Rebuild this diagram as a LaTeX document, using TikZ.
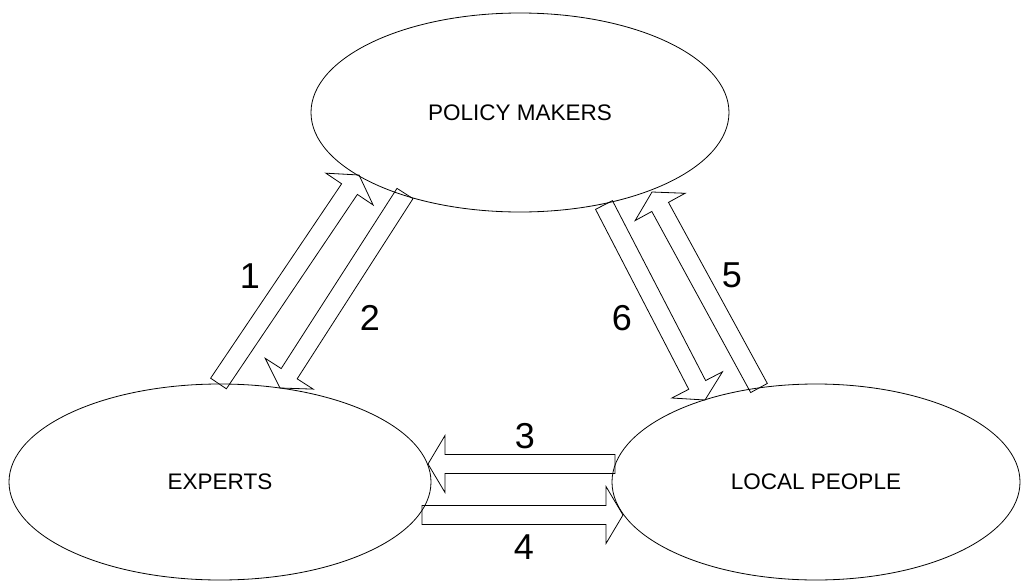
\documentclass[tikz,border=0pt]{standalone}
\usepackage{fontspec}
\setmainfont{Liberation Sans}
\usetikzlibrary{shapes.geometric,calc}
\tikzset{
  party/.style={draw=black, line width=0.8pt, ellipse, inner sep=0pt, font=\fontsize{22.5}{27}\selectfont},
  blk/.style={draw=black, line width=0.8pt, line join=miter},
  num/.style={inner sep=0pt, font=\fontsize{36}{40}\selectfont}
}
% block arrow from #1 (tail) to #2 (tip); #3 = name for head base point
\newcommand\blockarrow[3]{%
  \coordinate (#3) at ($(#2)!17pt!(#1)$);
  \draw[blk] ($(#1)!9.5pt!90:(#2)$) -- ($(#3)!9.5pt!90:(#2)$) -- ($(#3)!28.5pt!90:(#2)$)
    -- (#2) -- ($(#3)!28.5pt!-90:(#2)$) -- ($(#3)!9.5pt!-90:(#2)$) -- ($(#1)!9.5pt!-90:(#2)$) -- cycle;
}
\begin{document}
\begin{tikzpicture}[x=1pt,y=-1pt]
\useasboundingbox (0,0) rectangle (1021,581);
% parties
\node[party, minimum width=418pt, minimum height=199pt] (pm) at (520,112.5) {POLICY MAKERS};
\node[party, minimum width=422pt, minimum height=196pt] (ex) at (220,482) {EXPERTS};
\node[party, minimum width=408pt, minimum height=196pt] (lp) at (816,482) {LOCAL PEOPLE};
% arrow end points
\coordinate (a1t) at (218.5,383.5); \coordinate (a1h) at (359,175);
\coordinate (a2t) at (405,193.5);   \coordinate (a2h) at (280,388);
\coordinate (a3t) at (615,464);     \coordinate (a3h) at (428,464);
\coordinate (a4t) at (422,515);     \coordinate (a4h) at (623,515);
\coordinate (a5t) at (759,388);     \coordinate (a5h) at (652,192);
\coordinate (a6t) at (604,205);     \coordinate (a6h) at (705,400);
\blockarrow{a1t}{a1h}{a1b}
\blockarrow{a2t}{a2h}{a2b}
\blockarrow{a3t}{a3h}{a3b}
\blockarrow{a4t}{a4h}{a4b}
\blockarrow{a5t}{a5h}{a5b}
\blockarrow{a6t}{a6h}{a6b}
% labels
\node[num] (n1) at (250,276) {1};
\node[num] (n2) at (370,318) {2};
\node[num] (n3) at (525,436) {3};
\node[num] (n4) at (524,547) {4};
\node[num] (n5) at (732,275) {5};
\node[num] (n6) at (622,318) {6};
\end{tikzpicture}
\end{document}
